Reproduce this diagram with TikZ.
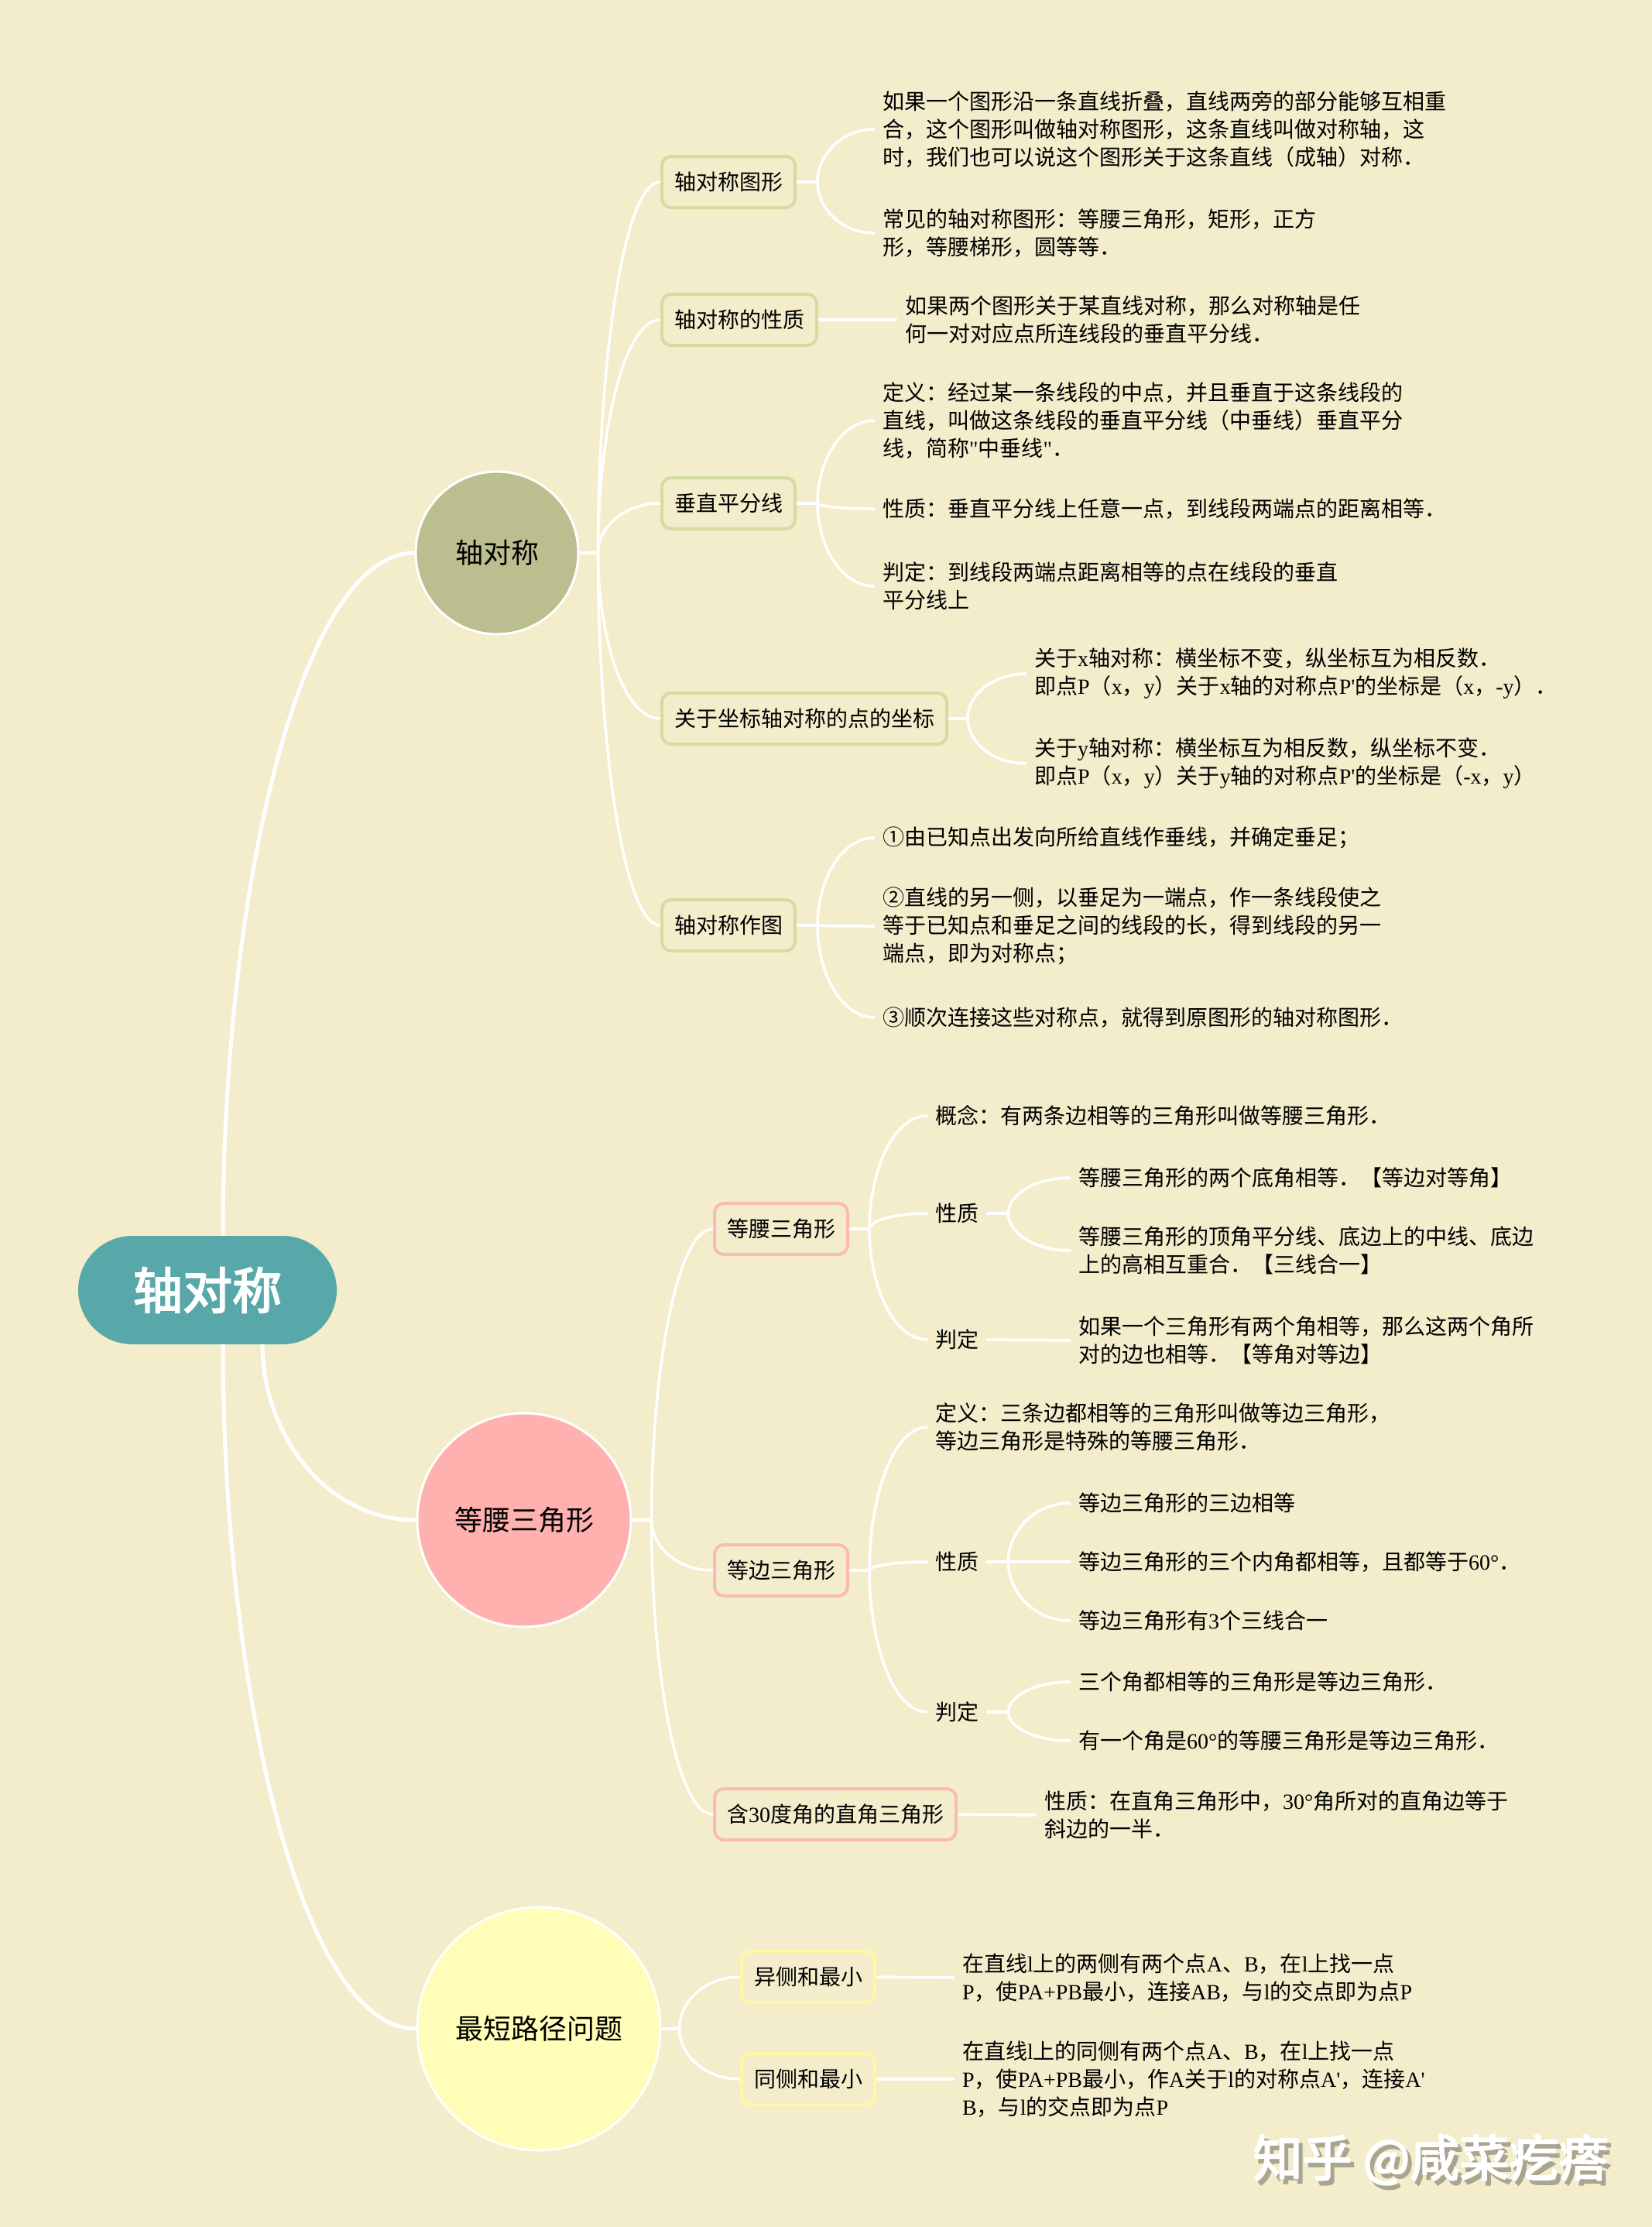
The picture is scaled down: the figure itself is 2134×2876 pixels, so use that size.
\documentclass[tikz,border=0pt]{standalone}
\usepackage{fontspec}
\usepackage{tikz}
\usetikzlibrary{calc}
\setmainfont{Noto Sans CJK SC}
\newfontfamily\en{Liberation Serif}
\newfontfamily\heavy{Noto Sans CJK SC}[FakeBold=3]

\definecolor{bgcol}{HTML}{F3EDCB}
\definecolor{rootcol}{HTML}{58A8A9}
\definecolor{symcol}{HTML}{BBBE8E}
\definecolor{isocol}{HTML}{FFB1B0}
\definecolor{shortcol}{HTML}{FFFDB8}
\definecolor{symline}{HTML}{D4DCA0}
\definecolor{isoline}{HTML}{F8BCB4}
\definecolor{shortline}{HTML}{FFF7A6}
\definecolor{shade}{HTML}{A9A591}

\tikzset{
	sway/.style={to path={let \p1=(\tikztostart), \p2=(\tikztotarget) in
		.. controls (\x1,{(\y1+\y2)/2}) and ({0.6*\x1+0.4*\x2},\y2) .. (\tikztotarget)}},
	trunk/.style={draw=white, line width=5pt},
	twig/.style={draw=white, line width=3.5pt},
	rootnode/.style={fill=rootcol, rounded corners=70pt, minimum width=334pt, minimum height=140pt,
		text=white, font=\heavy\fontsize{64}{64}\selectfont},
	topic/.style={circle, draw=white, line width=3pt, font=\fontsize{36}{36}\selectfont},
	sub/.style={draw=#1, line width=4pt, rounded corners=12pt, fill=bgcol, minimum height=66pt,
		inner xsep=16pt, anchor=west, font=\fontsize{28}{28}\selectfont},
	lab/.style={anchor=west, inner xsep=10pt, inner ysep=0pt, font=\fontsize{28}{28}\selectfont},
	leaf/.style={anchor=west, align=left, inner xsep=10pt, inner ysep=0pt, font=\fontsize{28}{36}\selectfont},
	wm/.style={font=\heavy\fontsize{64}{64}\selectfont},
}

\begin{document}
\begin{tikzpicture}[x=1pt,y=-1pt]
	\fill[bgcol] (0,0) rectangle (2134,2876);

	% centre and main topics
	\node[rootnode] (root) at (268,1666) {轴对称};
	\node[topic, fill=symcol, minimum size=210pt] (sym) at (642,714) {轴对称};
	\node[topic, fill=isocol, minimum size=276pt] (iso) at (677,1963) {等腰三角形};
	\node[topic, fill=shortcol, minimum size=314pt] (shortest) at (696,2620) {最短路径问题};

	\coordinate (r1) at ([xshift=20pt]root.north);
	\coordinate (r2) at ([xshift=71pt]root.south);
	\coordinate (r3) at ([xshift=20pt]root.south);
	\draw[trunk] (r1) to[sway] (sym.west);
	\draw[trunk] (r2) to[sway] (iso.west);
	\draw[trunk] (r3) to[sway] (shortest.west);

	% 轴对称
	\node[sub=symline] (fig) at (853,235) {轴对称图形};
	\node[sub=symline] (prop) at (853,413) {轴对称的性质};
	\node[sub=symline] (perp) at (853,650) {垂直平分线};
	\node[sub=symline] (axis) at (853,928) {关于坐标轴对称的点的坐标};
	\node[sub=symline] (constr) at (853,1195) {轴对称作图};

	\coordinate (f0) at ([xshift=24pt]sym.east);
	\draw[twig] (sym.east) -- (f0);
	\draw[twig] (f0) to[sway] (fig.west);
	\draw[twig] (f0) to[sway] (prop.west);
	\draw[twig] (f0) to[sway] (perp.west);
	\draw[twig] (f0) to[sway] (axis.west);
	\draw[twig] (f0) to[sway] (constr.west);

	\node[leaf] (fig1) at (1130,167) {如果一个图形沿一条直线折叠，直线两旁的部分能够互相重\\合，这个图形叫做轴对称图形，这条直线叫做对称轴，这\\时，我们也可以说这个图形关于这条直线（成轴）对称．};
	\node[leaf] (fig2) at (1130,301) {常见的轴对称图形：等腰三角形，矩形，正方\\形，等腰梯形，圆等等．};
	\coordinate (f1) at ([xshift=27pt]fig.east);
	\draw[twig] (fig.east) -- (f1);
	\draw[twig] (f1) to[sway] (fig1.west);
	\draw[twig] (f1) to[sway] (fig2.west);

	\node[leaf] (prop1) at (1159,413) {如果两个图形关于某直线对称，那么对称轴是任\\何一对对应点所连线段的垂直平分线．};
	\draw[twig] (prop.east) -- (prop1.west);

	\node[leaf] (perp1) at (1130,543) {定义：经过某一条线段的中点，并且垂直于这条线段的\\直线，叫做这条线段的垂直平分线（中垂线）垂直平分\\线，简称{\en "}中垂线{\en "}．};
	\node[leaf] (perp2) at (1130,657) {性质：垂直平分线上任意一点，到线段两端点的距离相等．};
	\node[leaf] (perp3) at (1130,757) {判定：到线段两端点距离相等的点在线段的垂直\\平分线上};
	\coordinate (f2) at ([xshift=27pt]perp.east);
	\draw[twig] (perp.east) -- (f2);
	\draw[twig] (f2) to[sway] (perp1.west);
	\draw[twig] (f2) to[sway] (perp2.west);
	\draw[twig] (f2) to[sway] (perp3.west);

	\node[leaf] (axis1) at (1326,870) {关于{\en x}轴对称：横坐标不变，纵坐标互为相反数．\\即点{\en P}（{\en x}，{\en y}）关于{\en x}轴的对称点{\en P'}的坐标是（{\en x}，{\en -y}）．};
	\node[leaf] (axis2) at (1326,986) {关于{\en y}轴对称：横坐标互为相反数，纵坐标不变．\\即点{\en P}（{\en x}，{\en y}）关于{\en y}轴的对称点{\en P'}的坐标是（{\en -x}，{\en y}）};
	\coordinate (f3) at ([xshift=25pt]axis.east);
	\draw[twig] (axis.east) -- (f3);
	\draw[twig] (f3) to[sway] (axis1.west);
	\draw[twig] (f3) to[sway] (axis2.west);

	\node[leaf] (con1) at (1130,1082) {①由已知点出发向所给直线作垂线，并确定垂足；};
	\node[leaf] (con2) at (1130,1196) {②直线的另一侧，以垂足为一端点，作一条线段使之\\等于已知点和垂足之间的线段的长，得到线段的另一\\端点，即为对称点；};
	\node[leaf] (con3) at (1130,1314) {③顺次连接这些对称点，就得到原图形的轴对称图形．};
	\coordinate (f4) at ([xshift=27pt]constr.east);
	\draw[twig] (constr.east) -- (f4);
	\draw[twig] (f4) to[sway] (con1.west);
	\draw[twig] (f4) to[sway] (con2.west);
	\draw[twig] (f4) to[sway] (con3.west);

	% 等腰三角形
	\node[sub=isoline] (isos) at (921,1587) {等腰三角形};
	\node[sub=isoline] (equi) at (921,2028) {等边三角形};
	\node[sub=isoline] (rt30) at (921,2343) {含{\en 30}度角的直角三角形};

	\coordinate (g0) at ([xshift=25pt]iso.east);
	\draw[twig] (iso.east) -- (g0);
	\draw[twig] (g0) to[sway] (isos.west);
	\draw[twig] (g0) to[sway] (equi.west);
	\draw[twig] (g0) to[sway] (rt30.west);

	\node[leaf] (isos1) at (1198,1441) {概念：有两条边相等的三角形叫做等腰三角形．};
	\node[lab] (isosxz) at (1198,1567) {性质};
	\node[lab] (isospd) at (1198,1730) {判定};
	\coordinate (g1) at ([xshift=26pt]isos.east);
	\draw[twig] (isos.east) -- (g1);
	\draw[twig] (g1) to[sway] (isos1.west);
	\draw[twig] (g1) to[sway] (isosxz.west);
	\draw[twig] (g1) to[sway] (isospd.west);

	\node[leaf] (isosxz1) at (1383,1521) {等腰三角形的两个底角相等．【等边对等角】};
	\node[leaf] (isosxz2) at (1383,1615) {等腰三角形的顶角平分线、底边上的中线、底边\\上的高相互重合．【三线合一】};
	\coordinate (g2) at ([xshift=28pt]isosxz.east);
	\draw[twig] (isosxz.east) -- (g2);
	\draw[twig] (g2) to[sway] (isosxz1.west);
	\draw[twig] (g2) to[sway] (isosxz2.west);

	\node[leaf] (isospd1) at (1383,1731) {如果一个三角形有两个角相等，那么这两个角所\\对的边也相等．【等角对等边】};
	\draw[twig] (isospd.east) -- (isospd1.west);

	\node[leaf] (equi1) at (1198,1843) {定义：三条边都相等的三角形叫做等边三角形，\\等边三角形是特殊的等腰三角形．};
	\node[lab] (equixz) at (1198,2017) {性质};
	\node[lab] (equipd) at (1198,2211) {判定};
	\coordinate (g3) at ([xshift=26pt]equi.east);
	\draw[twig] (equi.east) -- (g3);
	\draw[twig] (g3) to[sway] (equi1.west);
	\draw[twig] (g3) to[sway] (equixz.west);
	\draw[twig] (g3) to[sway] (equipd.west);

	\node[leaf] (equixz1) at (1383,1941) {等边三角形的三边相等};
	\node[leaf] (equixz2) at (1383,2017) {等边三角形的三个内角都相等，且都等于{\en 60°}．};
	\node[leaf] (equixz3) at (1383,2093) {等边三角形有{\en 3}个三线合一};
	\coordinate (g4) at ([xshift=28pt]equixz.east);
	\draw[twig] (equixz.east) -- (g4);
	\draw[twig] (g4) to[sway] (equixz1.west);
	\draw[twig] (g4) to[sway] (equixz2.west);
	\draw[twig] (g4) to[sway] (equixz3.west);

	\node[leaf] (equipd1) at (1383,2172) {三个角都相等的三角形是等边三角形．};
	\node[leaf] (equipd2) at (1383,2248) {有一个角是{\en 60°}的等腰三角形是等边三角形．};
	\coordinate (g5) at ([xshift=28pt]equipd.east);
	\draw[twig] (equipd.east) -- (g5);
	\draw[twig] (g5) to[sway] (equipd1.west);
	\draw[twig] (g5) to[sway] (equipd2.west);

	\node[leaf] (rt301) at (1339,2344) {性质：在直角三角形中，{\en 30°}角所对的直角边等于\\斜边的一半．};
	\draw[twig] (rt30.east) -- (rt301.west);

	% 最短路径问题
	\node[sub=shortline] (apart) at (956,2553) {异侧和最小};
	\node[sub=shortline] (same) at (956,2685) {同侧和最小};
	\coordinate (h0) at ([xshift=23pt]shortest.east);
	\draw[twig] (shortest.east) -- (h0);
	\draw[twig] (h0) to[sway] (apart.west);
	\draw[twig] (h0) to[sway] (same.west);

	\node[leaf] (apart1) at (1233,2554) {在直线{\en l}上的两侧有两个点{\en A}、{\en B}，在{\en l}上找一点\\{\en P}，使{\en PA+PB}最小，连接{\en AB}，与{\en l}的交点即为点{\en P}};
	\node[leaf] (same1) at (1233,2685) {在直线{\en l}上的同侧有两个点{\en A}、{\en B}，在{\en l}上找一点\\{\en P}，使{\en PA+PB}最小，作{\en A}关于{\en l}的对称点{\en A'}，连接{\en A'}\\{\en B}，与{\en l}的交点即为点{\en P}};
	\draw[twig] (apart.east) -- (apart1.west);
	\draw[twig] (same.east) -- (same1.west);

	% watermark
	\node[wm, text=shade] (wmshade) at (1853,2795) {知乎 @咸菜疙瘩};
	\node[wm, text=white] (wmark) at (1848,2789) {知乎 @咸菜疙瘩};
\end{tikzpicture}
\end{document}
